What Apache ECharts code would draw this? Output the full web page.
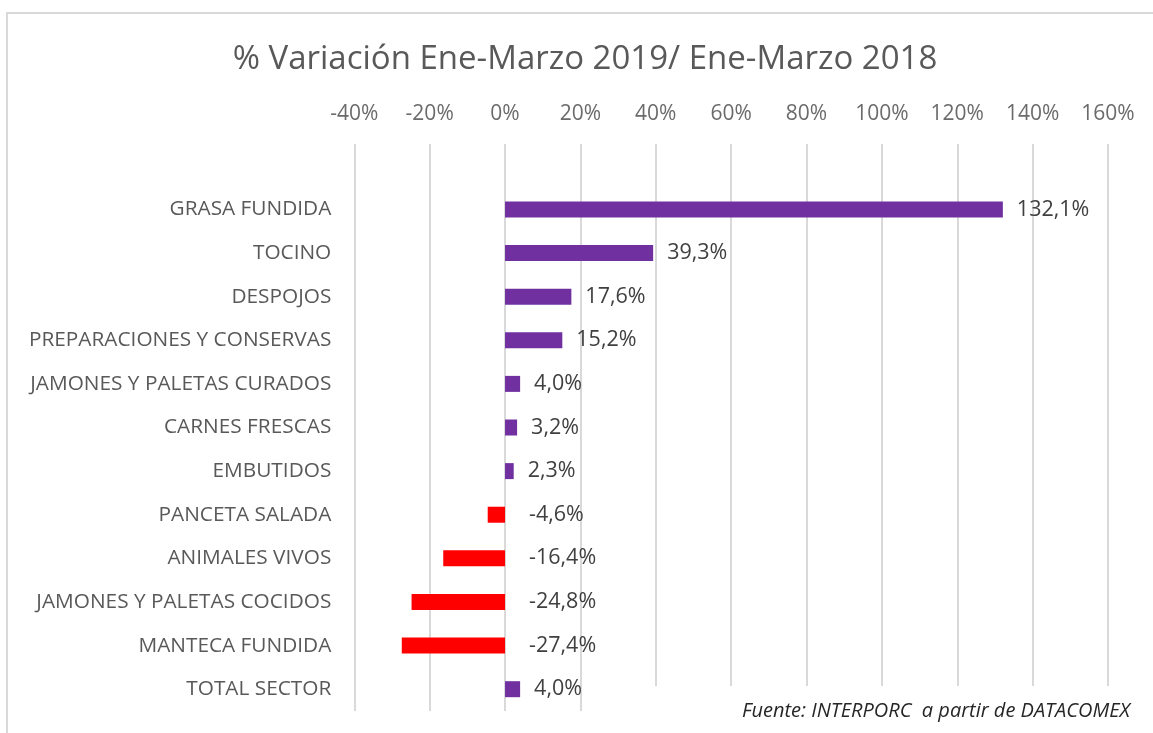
<!DOCTYPE html>
<html><head><meta charset="utf-8">
<script src="https://cdn.jsdelivr.net/npm/echarts@6/dist/echarts.min.js"></script>
<style>html,body{margin:0;padding:0;background:#fff}#c{width:1153px;height:733px}</style>
</head><body><div id="c"></div>
<script>
const titleText = '% Variación Ene-Marzo 2019/ Ene-Marzo 2018';
const sourceText = 'Fuente: INTERPORC  a partir de DATACOMEX';
const categories = ['GRASA FUNDIDA','TOCINO','DESPOJOS','PREPARACIONES Y CONSERVAS','JAMONES Y PALETAS CURADOS','CARNES FRESCAS','EMBUTIDOS','PANCETA SALADA','ANIMALES VIVOS','JAMONES Y PALETAS COCIDOS','MANTECA FUNDIDA','TOTAL SECTOR'];
const values = [132.1, 39.3, 17.6, 15.2, 4.0, 3.2, 2.3, -4.6, -16.4, -24.8, -27.4, 4.0];
const xTicks = {min: -40, max: 160, interval: 20};

const FONT = 'Open Sans';
const fmt = v => v.toFixed(1).replace('.', ',') + '%';

const yData = [''].concat(categories);
const seriesData = [null].concat(values.map(v => ({
  value: v,
  itemStyle: {color: v < 0 ? '#FF0000' : '#7030A0'},
  label: {distance: v < 0 ? 24 : 14}
})));

const chart = echarts.init(document.getElementById('c'));
chart.setOption({
  animation: false,
  backgroundColor: '#fff',
  title: {
    text: titleText, left: 580, top: 38, textAlign: 'center',
    textStyle: {fontFamily: FONT, fontSize: 33, fontWeight: 'normal', color: '#595959'}
  },
  grid: {left: 354.3, right: 45, top: 144, bottom: 22},
  xAxis: {
    type: 'value', position: 'top', min: xTicks.min, max: xTicks.max, interval: xTicks.interval,
    axisLine: {show: false}, axisTick: {show: false},
    axisLabel: {formatter: '{value}%', fontFamily: FONT, fontSize: 21, color: '#6b6b6b', margin: 19},
    splitLine: {show: true, lineStyle: {color: '#d9d9d9', width: 2}}
  },
  yAxis: {
    type: 'category', inverse: true, data: yData,
    axisLine: {show: false}, axisTick: {show: false},
    axisLabel: {fontFamily: FONT, fontSize: 20.8, color: '#595959', margin: 23, padding: [3, 0, 0, 0]}
  },
  series: [{
    type: 'bar', data: seriesData, barWidth: 16,
    label: {show: true, position: 'right', formatter: p => fmt(p.value), fontFamily: FONT, fontSize: 21.5, color: '#404040'}
  }],
  graphic: [
    {type: 'rect', z: 100, shape: {x: 620, y: 686, width: 530, height: 47}, style: {fill: '#fff'}},
    {type: 'text', z: 101, x: 1130, y: 711, style: {text: sourceText, fontFamily: FONT, fontSize: 20, fontStyle: 'italic', fill: '#262626', align: 'right', verticalAlign: 'middle'}},
    {type: 'rect', z: 102, shape: {x: 7, y: 13, width: 1170, height: 760}, style: {fill: 'none', stroke: '#d9d9d9', lineWidth: 2}}
  ]
});
</script></body></html>
